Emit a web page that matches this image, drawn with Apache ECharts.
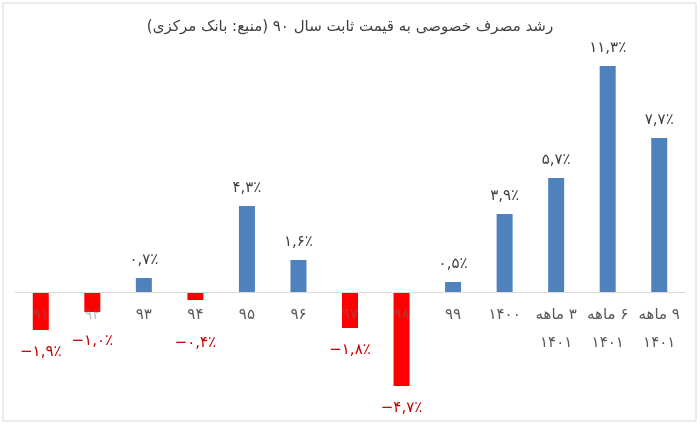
<!DOCTYPE html>
<html>
<head>
<meta charset="utf-8">
<script src="https://cdn.jsdelivr.net/npm/echarts@6/dist/echarts.min.js"></script>
<style>
  html, body { margin: 0; padding: 0; background: #fff; }
  #chart { width: 700px; height: 427px; }
</style>
</head>
<body>
<div id="chart"></div>
<script>
const RLM = '\u200F';

// categories (years) and growth values in percent
const categories = ['۹۱', '۹۲', '۹۳', '۹۴', '۹۵', '۹۶', '۹۷', '۹۸', '۹۹', '۱۴۰۰',
  RLM + '۳ ماهه\n۱۴۰۱', RLM + '۶ ماهه\n۱۴۰۱', RLM + '۹ ماهه\n۱۴۰۱'];
const values = [-1.9, -1.0, 0.7, -0.4, 4.3, 1.6, -1.8, -4.7, 0.5, 3.9, 5.7, 11.3, 7.7];

const titleText = RLM + 'رشد مصرف خصوصی به قیمت ثابت سال ۹۰ (منبع: بانک مرکزی)' + RLM;

const BLUE = '#4f81bd';
const RED = '#ff0000';
const FONT = "'DejaVu Sans', sans-serif";

const Y_MIN = -6;
const Y_MAX = 12;
const GRID_TOP = 52;
const GRID_BOTTOM = 15;
const gridH = 427 - GRID_TOP - GRID_BOTTOM;
// move the category axis up to the zero line
const zeroOffset = -gridH * (0 - Y_MIN) / (Y_MAX - Y_MIN);

// short negative bars: push their label below the category text (like Excel does)
const labelDistance = { 1: 22, 3: 36 };

// western digits -> persian digits
const toFa = (s) => s.replace(/[0-9]/g, d => '۰۱۲۳۴۵۶۷۸۹'[d]);
const fmt = (v) => (v < 0 ? '\u2212' : '') + toFa(Math.abs(v).toFixed(1).replace('.', ',')) + '٪';

const chart = echarts.init(document.getElementById('chart'));

const option = {
  backgroundColor: '#fff',
  animation: false,
  title: {
    text: titleText,
    left: 'center',
    top: 15,
    textStyle: { fontFamily: FONT, fontSize: 15, fontWeight: 'normal', color: '#404040' }
  },
  graphic: [{
    type: 'rect',
    shape: { x: 3, y: 3, width: 693, height: 418 },
    style: { fill: 'none', stroke: '#d9d9d9', lineWidth: 1 },
    silent: true
  }],
  grid: {
    left: 15, right: 15, top: GRID_TOP, bottom: GRID_BOTTOM,
    containLabel: false,
    outerBoundsMode: 'none'
  },
  xAxis: {
    type: 'category',
    data: categories,
    z: 5,
    offset: zeroOffset,
    axisLine: { onZero: false, lineStyle: { color: '#d9d9d9', width: 1 } },
    axisTick: { show: false },
    axisLabel: {
      interval: 0,
      margin: 9,
      fontFamily: FONT,
      fontSize: 15,
      lineHeight: 28,
      // labels that sit under a red bar look faded, as in the source
      color: (val, idx) => values[idx] <= -1 ? 'rgba(110,110,110,0.45)' : '#595959'
    }
  },
  yAxis: {
    type: 'value',
    min: Y_MIN,
    max: Y_MAX,
    show: false,
    splitLine: { show: false }
  },
  series: [{
    type: 'bar',
    barWidth: 16,
    data: values.map((v, i) => ({
      value: v,
      itemStyle: { color: v < 0 ? RED : BLUE },
      label: {
        show: true,
        position: v < 0 ? 'bottom' : 'top',
        distance: v < 0 ? (labelDistance[i] || 15) : 10,
        formatter: () => fmt(v),
        fontFamily: FONT,
        fontSize: 15,
        color: v < 0 ? '#c00000' : '#404040'
      }
    }))
  }]
};

chart.setOption(option);
</script>
</body>
</html>
